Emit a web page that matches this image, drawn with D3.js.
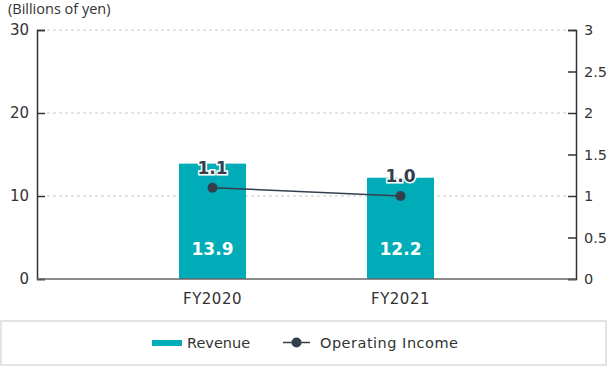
<html>
<head>
<meta charset="utf-8">
<script src="https://cdn.jsdelivr.net/npm/d3@7"></script>
<style>
  body { margin:0; background:#fff; }
  text { font-family: "DejaVu Sans", sans-serif; }
</style>
</head>
<body>
<svg id="chart" width="608" height="366"></svg>
<script>
// data
const years = ["FY2020", "FY2021"]
const revenue = [13.9, 12.2]
const opIncome = [1.1, 1.0]
const leftTicks = [0, 10, 20, 30]
const rightTicks = [0, 0.5, 1, 1.5, 2, 2.5, 3]

const svg = d3.select("#chart")
const mLeft = 37, mRight = 576, mTop = 30, mBottom = 279

const x = d3.scalePoint().domain(years).range([212.5, 400.5])
const y = d3.scaleLinear().domain([0, 30]).range([mBottom, mTop])
const y2 = d3.scaleLinear().domain([0, 3]).range([mBottom, mTop])

const ink = "#333"
const barColor = "#00acb8"
const lineColor = "#333f4c"

// grid
svg.append("g").selectAll("line")
  .data(leftTicks.filter(d => d > 0))
  .enter().append("line")
  .attr("x1", mLeft + 10).attr("x2", mRight - 10)
  .attr("y1", d => y(d)).attr("y2", d => y(d))
  .attr("stroke", "#c8c8c8").attr("stroke-dasharray", "3,3")

// bars
const bw = 67
svg.append("g").selectAll("rect")
  .data(revenue)
  .enter().append("rect")
  .attr("x", (d, i) => x(years[i]) - bw / 2)
  .attr("y", d => y(d))
  .attr("width", bw)
  .attr("height", d => mBottom - y(d))
  .attr("fill", barColor)

svg.append("g").selectAll("text")
  .data(revenue)
  .enter().append("text")
  .attr("x", (d, i) => x(years[i]))
  .attr("y", 255)
  .attr("text-anchor", "middle")
  .attr("fill", "#fff")
  .attr("font-size", 17)
  .attr("font-weight", "bold")
  .text(d => d.toFixed(1))

// left axis
const la = svg.append("g").attr("transform", `translate(${mLeft},0)`)
  .call(d3.axisRight(y).tickValues(leftTicks).tickSize(8).tickFormat(d3.format("d")))
la.select(".domain").attr("stroke", ink).attr("stroke-width", 1.5)
la.selectAll(".tick line").attr("stroke", ink).attr("stroke-width", 1.5)
la.selectAll(".tick text").attr("x", -8).attr("text-anchor", "end")
  .attr("font-size", 15).attr("fill", ink)

// right axis
const ra = svg.append("g").attr("transform", `translate(${mRight},0)`)
  .call(d3.axisLeft(y2).tickValues(rightTicks).tickSize(8).tickFormat(d => d))
ra.select(".domain").attr("stroke", ink).attr("stroke-width", 1.5)
ra.selectAll(".tick line").attr("stroke", ink).attr("stroke-width", 1.5)
ra.selectAll(".tick text").attr("x", 8).attr("text-anchor", "start")
  .attr("font-size", 14.5).attr("fill", ink)

// baseline
svg.append("line").attr("x1", mLeft).attr("x2", mRight)
  .attr("y1", mBottom).attr("y2", mBottom)
  .attr("stroke", "#666").attr("stroke-width", 1.5)

// x labels
svg.append("g").selectAll("text")
  .data(years)
  .enter().append("text")
  .attr("x", d => x(d)).attr("y", 304)
  .attr("text-anchor", "middle").attr("font-size", 15).attr("fill", ink)
  .attr("letter-spacing", 0.5)
  .text(d => d)

// unit
svg.append("text").attr("x", 8).attr("y", 14)
  .attr("font-size", 14.5).attr("fill", ink)
  .style("font-family", "'Open Sans', sans-serif")
  .text("(Billions of yen)")

// line
const line = d3.line().x((d, i) => x(years[i])).y(d => y2(d))
svg.append("path").datum(opIncome)
  .attr("d", line).attr("fill", "none")
  .attr("stroke", lineColor).attr("stroke-width", 1.5)
svg.append("g").selectAll("circle")
  .data(opIncome)
  .enter().append("circle")
  .attr("cx", (d, i) => x(years[i])).attr("cy", d => y2(d))
  .attr("r", 5).attr("fill", lineColor)

svg.append("g").selectAll("text")
  .data(opIncome)
  .enter().append("text")
  .attr("x", (d, i) => x(years[i])).attr("y", d => y2(d) - 14)
  .attr("text-anchor", "middle").attr("font-size", 17).attr("font-weight", "bold")
  .attr("fill", lineColor).attr("stroke", "#fff").attr("stroke-width", 3)
  .attr("paint-order", "stroke")
  .text(d => d.toFixed(1))

// legend
svg.append("rect").attr("x", 1).attr("y", 321).attr("width", 605).attr("height", 44)
  .attr("fill", "#fff").attr("stroke", "#e3e3e3").attr("stroke-width", 2)
svg.append("rect").attr("x", 152).attr("y", 340).attr("width", 30).attr("height", 6)
  .attr("fill", barColor)
svg.append("text").attr("x", 187).attr("y", 348).attr("font-size", 14.5).attr("fill", ink)
  .text("Revenue")
svg.append("line").attr("x1", 283).attr("x2", 310).attr("y1", 342.5).attr("y2", 342.5)
  .attr("stroke", lineColor).attr("stroke-width", 1.5)
svg.append("circle").attr("cx", 296.5).attr("cy", 342.5).attr("r", 5).attr("fill", lineColor)
svg.append("text").attr("x", 320).attr("y", 348).attr("font-size", 14.5).attr("fill", ink)
  .attr("letter-spacing", 0.5)
  .text("Operating Income")
</script>
</body>
</html>
